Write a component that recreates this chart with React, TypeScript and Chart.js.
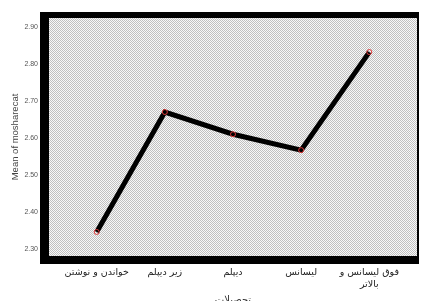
import React, { useEffect, useRef } from "react";
import { Chart, registerables } from "chart.js";

Chart.register(...registerables);

const categories: (string | string[])[] = [
  "خواندن و نوشتن",
  "زیر دیپلم",
  "دیپلم",
  "لیسانس",
  ["فوق لیسانس و", "بالاتر"],
];
const meanValues = [2.346, 2.67, 2.61, 2.567, 2.832];
const yTickValues = [2.3, 2.4, 2.5, 2.6, 2.7, 2.8, 2.9];
const yAxisTitle = "Mean of mosharecat";
const xAxisTitle = "تحصیلات";

function makePattern(): CanvasPattern | string {
  const c = document.createElement("canvas");
  c.width = 2;
  c.height = 2;
  const g = c.getContext("2d");
  if (!g) return "#dcdcdc";
  g.fillStyle = "#f8f8f8";
  g.fillRect(0, 0, 2, 2);
  g.fillStyle = "#c0c0c0";
  g.fillRect(0, 0, 1, 1);
  g.fillRect(1, 1, 1, 1);
  const p = g.createPattern(c, "repeat");
  return p || "#dcdcdc";
}

const framePlugin = {
  id: "frame",
  beforeDraw(chart: any) {
    const { ctx, chartArea } = chart;
    const { left, top, right, bottom } = chartArea;
    ctx.save();
    ctx.fillStyle = makePattern();
    ctx.fillRect(left, top, right - left, bottom - top);
    ctx.fillStyle = "#000";
    ctx.fillRect(left - 9, top - 6, right - left + 11, 6);
    ctx.fillRect(left - 9, bottom, right - left + 11, 8);
    ctx.fillRect(left - 9, top - 6, 9, bottom - top + 14);
    ctx.fillRect(right, top - 6, 2, bottom - top + 14);
    ctx.restore();
  },
};

export default function App() {
  const ref = useRef<HTMLCanvasElement>(null);
  useEffect(() => {
    if (!ref.current) return;
    const chart = new Chart(ref.current, {
      type: "line",
      data: {
        datasets: [
          {
            data: meanValues.map((v, i) => ({ x: i, y: v })),
            borderColor: "#000",
            borderWidth: 5,
            pointRadius: 2.5,
            pointBorderColor: "#e03c3c",
            pointBackgroundColor: "rgba(0,0,0,0)",
            pointBorderWidth: 1,
            tension: 0,
          },
        ],
      },
      options: {
        animation: false,
        responsive: true,
        maintainAspectRatio: false,
        layout: { padding: { left: 0, top: 18, right: 2, bottom: 0 } },
        plugins: { legend: { display: false }, tooltip: { enabled: false } },
        scales: {
          x: {
            type: "linear",
            min: -0.7,
            max: 4.7,
            afterBuildTicks: (s: any) => {
              s.ticks = categories.map((_, i) => ({ value: i }));
            },
            afterFit: (s: any) => {
              s.height = 45;
            },
            grid: { display: false, drawTicks: false },
            border: { display: false },
            ticks: {
              autoSkip: false,
              maxRotation: 0,
              padding: 10,
              color: "#222",
              font: { family: "DejaVu Sans", size: 9.5, lineHeight: 1.3 },
              callback: (v: any) => categories[v as number],
            },
            title: {
              display: true,
              text: xAxisTitle,
              color: "#333",
              font: { family: "DejaVu Sans", size: 10 },
              padding: { top: -5, bottom: -5 },
            },
          },
          y: {
            min: 2.281,
            max: 2.924,
            afterBuildTicks: (s: any) => {
              s.ticks = yTickValues.map((v) => ({ value: v }));
            },
            afterFit: (s: any) => {
              s.width = 49;
            },
            grid: { display: false, drawTicks: false },
            border: { display: false },
            ticks: {
              padding: 11,
              color: "#555",
              font: { family: "Liberation Sans", size: 7 },
              callback: (v: any) => Number(v).toFixed(2),
            },
            title: {
              display: true,
              text: yAxisTitle,
              color: "#444",
              font: { family: "Liberation Sans", size: 9.5 },
              padding: { top: 10, bottom: 0 },
            },
          },
        },
      },
      plugins: [framePlugin],
    });
    return () => chart.destroy();
  }, []);
  return (
    <div style={{ position: "fixed", left: 0, top: 0, width: 422, height: 301, background: "#fff" }}>
      <canvas ref={ref} />
    </div>
  );
}
